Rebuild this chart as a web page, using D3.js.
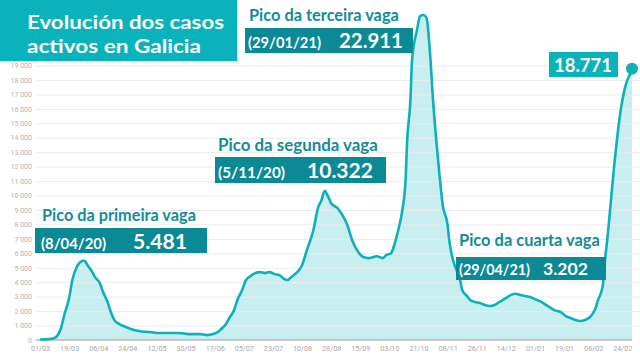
<!DOCTYPE html>
<html><head><meta charset="utf-8">
<script src="https://cdn.jsdelivr.net/npm/d3@7"></script>
<style>body{margin:0;background:#fff}svg{display:block}</style>
</head><body>
<svg id="c" width="640" height="360"></svg>
<script>
// Day index counted from 01/03 (tick spacing 18 days)
const days = [0,2,6,9,11,13,15,18,20,23,25,27,28,29,32,34,37,39,42,44,46,49,53,56,61,68,74,80,86,92,99,103,107,110,112,115,117,120,122,125,127,130,133,136,139,142,145,148,151,153,156,159,162,165,169,172,174,176,178,180,184,187,190,193,196,200,203,206,208,212,214,217,219,221,224,226,227,229,230,233,235,237,239,241,243,245,247,249,252,253,255,258,260,261,264,266,269,272,275,278,281,284,288,291,294,297,300,303,306,309,312,315,318,322,325,328,331,334,337,340,343,345,348,349,351,353,355,357,359,361,363,365,366];
const activeCases = [30,40,70,140,350,830,1730,2900,4150,5120,5400,5481,5440,5250,4770,4350,3940,3320,2560,1870,1380,1110,900,760,620,550,480,480,480,410,410,340,410,550,760,1110,1520,2070,2760,3460,4080,4420,4630,4700,4630,4700,4560,4490,4220,4150,4420,4700,5180,6220,7600,9190,9670,10322,9950,9470,9120,8640,7950,6910,6220,5740,5670,5740,5800,5670,5870,6010,6560,7390,8980,11060,13820,16590,19350,21420,22420,22500,22280,20040,16590,13820,11400,9330,7950,6910,5670,4700,4010,3460,3040,2760,2630,2560,2420,2350,2420,2630,2900,3110,3202,3110,3040,2970,2830,2690,2490,2280,2070,1930,1660,1520,1380,1310,1380,1590,2070,2760,3800,5180,7260,9670,12090,14170,15890,17140,17970,18450,18771];
const xTickDays = [0,18,36,54,72,90,108,126,144,162,180,198,216,234,252,270,288,306,324,342,360];
const xTickLabels = ["01/03","19/03","06/04","24/04","12/05","30/05","17/06","05/07","23/07","10/08","28/08","15/09","03/10","21/10","08/11","26/11","14/12","01/01","19/01","06/02","24/02"];
const yTicks = [0,1000,2000,3000,4000,5000,6000,7000,8000,9000,10000,11000,12000,13000,14000,15000,16000,17000,18000,19000];
const titleLines = ["Evolución dos casos","activos en Galicia"];
const peakTitles = ["Pico da primeira vaga","Pico da segunda vaga","Pico da terceira vaga","Pico da cuarta vaga"];
const peakDates = ["(8/04/20)","(5/11/20)","(29/01/21)","(29/04/21)"];
const peakValues = ["5.481","10.322","22.911","3.202"];
const lastValueLabel = "18.771";

const data = days.map((d,i)=>({d, v: activeCases[i]}));
const svg = d3.select("#c");
const FONT = "Lato, 'Open Sans', sans-serif";
const cLine = "#0db1bc", cFill = "#c9eef0", cDark = "#0b8995", cText = "#148c98", cTitle = "#0ab2bb";

const x = d3.scaleLinear().domain([0,366]).range([40,632]);
const y = d3.scaleLinear().domain([0,19000]).range([340,65.5]);

// area
svg.append("path").datum(data)
  .attr("d", d3.area().x(p=>x(p.d)).y0(y(0)).y1(p=>y(p.v)).curve(d3.curveMonotoneX))
  .attr("fill", cFill);

// y grid + labels
const fmt = v => d3.format(",")(v).replace(/,/g," ");
const gy = svg.append("g").attr("transform","translate(36,0)")
  .call(d3.axisLeft(y).tickValues(yTicks).tickFormat(fmt).tickSize(-604).tickPadding(4));
gy.select(".domain").remove();
gy.selectAll(".tick line").attr("stroke","#ebebeb");
gy.selectAll(".tick text").attr("fill","#b3b3b3").attr("font-size",7).attr("font-family","Roboto, sans-serif");
gy.selectAll(".tick").filter(d=>d===0).select("line").remove();

// x axis
const gx = svg.append("g").attr("transform","translate(0,340)")
  .call(d3.axisBottom(x).tickValues(xTickDays).tickFormat((d,i)=>xTickLabels[i]).tickSize(0).tickPadding(6));
gx.select(".domain").remove();
gx.selectAll(".tick text").attr("fill","#a8a8a8").attr("font-size",7.2).attr("font-family","Roboto, sans-serif");
svg.append("line").attr("x1",36).attr("x2",x(366)).attr("y1",y(0)).attr("y2",y(0))
  .attr("stroke","#9a9a9a").attr("stroke-width",1.2);

// line
svg.append("path").datum(data)
  .attr("d", d3.line().x(p=>x(p.d)).y(p=>y(p.v)).curve(d3.curveMonotoneX))
  .attr("fill","none").attr("stroke",cLine).attr("stroke-width",2.6).attr("stroke-linejoin","round");
const last = data[data.length-1];
svg.append("circle").attr("cx",x(last.d)).attr("cy",y(last.v)).attr("r",6).attr("fill",cLine);

function fitText(sel, w){
  const L = sel.node().getComputedTextLength();
  const fs = parseFloat(sel.attr("font-size"));
  if (L>0) sel.attr("font-size", fs*w/L);
  return sel;
}
function txt(str,x0,yb,fs,color,w){
  const t = svg.append("text").attr("x",x0).attr("y",yb).attr("font-family",FONT)
    .attr("font-weight","bold").attr("font-size",fs).attr("fill",color).text(str);
  if (w) fitText(t,w);
  return t;
}

// annotation layout
const ann = [
  {tx:42, ty:221, tw:154, bx:35, by:228, bw:172, bh:25, dx:41, dw:65, vx:133, vw:54, vy:249},
  {tx:218, ty:151, tw:160, bx:215, by:157, bw:171, bh:26, dx:218, dw:67, vx:307, vw:66, vy:178},
  {tx:249, ty:21, tw:150, bx:245, by:28, bw:168, bh:25, dx:248, dw:73, vx:339, vw:64, vy:48},
  {tx:459, ty:246, tw:141, bx:456, by:257, bw:150, bh:23, dx:459, dw:71, vx:543, vw:45, vy:275}
];
ann.forEach((a,i)=>{
  txt(peakTitles[i], a.tx, a.ty, 16, cText, a.tw);
  svg.append("rect").attr("x",a.bx).attr("y",a.by).attr("width",a.bw).attr("height",a.bh).attr("fill",cDark);
  txt(peakDates[i], a.dx, a.vy, 15, "#fff", a.dw);
  txt(peakValues[i], a.vx, a.vy, 21, "#fff", a.vw);
});

// last value label
svg.append("rect").attr("x",549).attr("y",52).attr("width",69).attr("height",25).attr("fill",cTitle);
txt(lastValueLabel, 554, 72, 19, "#fff", 58);

// title
svg.append("rect").attr("x",0).attr("y",0).attr("width",237).attr("height",61).attr("fill",cTitle);
const titleY = [29,53], titleW = [197,174];
titleLines.forEach((s,i)=>{
  svg.append("text").attr("x",27).attr("y",titleY[i]).attr("font-family",FONT)
    .attr("font-weight","bold").attr("font-size",19.8).attr("fill","#fff")
    .attr("textLength",titleW[i]).attr("lengthAdjust","spacingAndGlyphs").text(s);
});
</script>
</body></html>
